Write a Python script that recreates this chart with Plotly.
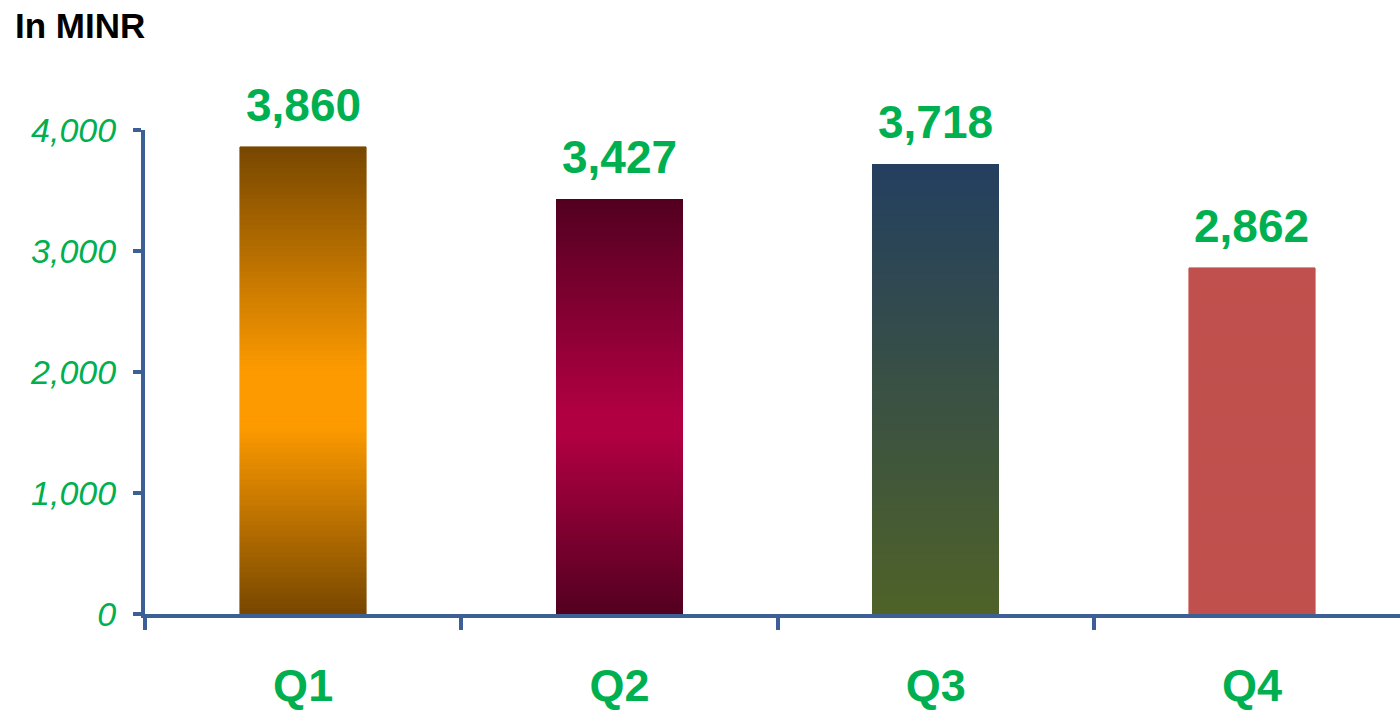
import plotly.graph_objects as go

# Quarterly figures, in millions of INR
quarters = ["Q1", "Q2", "Q3", "Q4"]
values = [3860, 3427, 3718, 2862]
value_labels = ["3,860", "3,427", "3,718", "2,862"]
y_ticks = [0, 1000, 2000, 3000, 4000]
y_tick_labels = ["0", "1,000", "2,000", "3,000", "4,000"]

# Vertical colour stops for each bar (fraction from bottom -> colour)
bar_gradients = [
    [(0.0, "#774700"), (0.40, "#fd9a00"), (0.52, "#fd9a00"), (1.0, "#774700")],
    [(0.0, "#520020"), (0.43, "#b00042"), (0.49, "#b00042"), (1.0, "#520020")],
    [(0.0, "#4f6228"), (1.0, "#243f60")],
    [(0.0, "#c0504d"), (1.0, "#c0504d")],
]

GREEN = "#00b050"
AXIS = "#3c6096"
FONT = "Arial, Liberation Sans, sans-serif"
N_SEG = 90


def hex_to_rgb(h):
    h = h.lstrip("#")
    return tuple(int(h[i:i + 2], 16) for i in (0, 2, 4))


def colour_at(stops, t):
    for (t0, c0), (t1, c1) in zip(stops[:-1], stops[1:]):
        if t <= t1:
            f = 0.0 if t1 == t0 else (t - t0) / (t1 - t0)
            a, b = hex_to_rgb(c0), hex_to_rgb(c1)
            r, g, bl = (round(a[i] + (b[i] - a[i]) * f) for i in range(3))
            return f"rgb({r},{g},{bl})"
    return stops[-1][1]


fig = go.Figure()

# Each bar is stacked from thin slices so it can carry a vertical gradient
for k in range(N_SEG):
    t = (k + 0.5) / N_SEG
    cols = [colour_at(stops, t) for stops in bar_gradients]
    fig.add_trace(go.Bar(
        x=quarters,
        y=[v / N_SEG for v in values],
        width=0.4,
        marker=dict(color=cols, line=dict(color=cols, width=0.6)),
        showlegend=False,
        hoverinfo="skip",
    ))

for q, v, lab in zip(quarters, values, value_labels):
    fig.add_annotation(
        x=q, y=v, text=lab, showarrow=False,
        yanchor="bottom", yshift=14,
        font=dict(family=FONT, size=46, color=GREEN, weight="bold"),
    )

fig.update_layout(
    barmode="stack",
    bargap=0.6,
    width=1400, height=711,
    margin=dict(l=145, r=0, t=130, b=97),
    paper_bgcolor="white",
    plot_bgcolor="white",
    title=dict(
        text="In MINR",
        x=15 / 1400, xanchor="left", xref="container",
        y=1 - 13 / 711, yanchor="top", yref="container",
        font=dict(family=FONT, size=35, color="black", weight="bold"),
    ),
    xaxis=dict(
        range=[-0.5, 3.468],
        automargin=False,
        showline=True, linecolor=AXIS, linewidth=4,
        ticks="outside", tickson="boundaries", ticklen=12,
        tickwidth=4, tickcolor=AXIS,
        tickfont=dict(family=FONT, size=45, color=GREEN, weight="bold"),
        ticklabelstandoff=29,
        showgrid=False, zeroline=False,
    ),
    yaxis=dict(
        range=[0, 4000],
        automargin=False,
        tickvals=y_ticks, ticktext=y_tick_labels,
        showline=True, linecolor=AXIS, linewidth=4,
        ticks="outside", ticklen=8, tickwidth=4, tickcolor=AXIS,
        tickfont=dict(family=FONT, size=34, color=GREEN, style="italic"),
        ticklabelstandoff=10,
        showgrid=False, zeroline=False,
    ),
)

fig.write_html("out.html")
